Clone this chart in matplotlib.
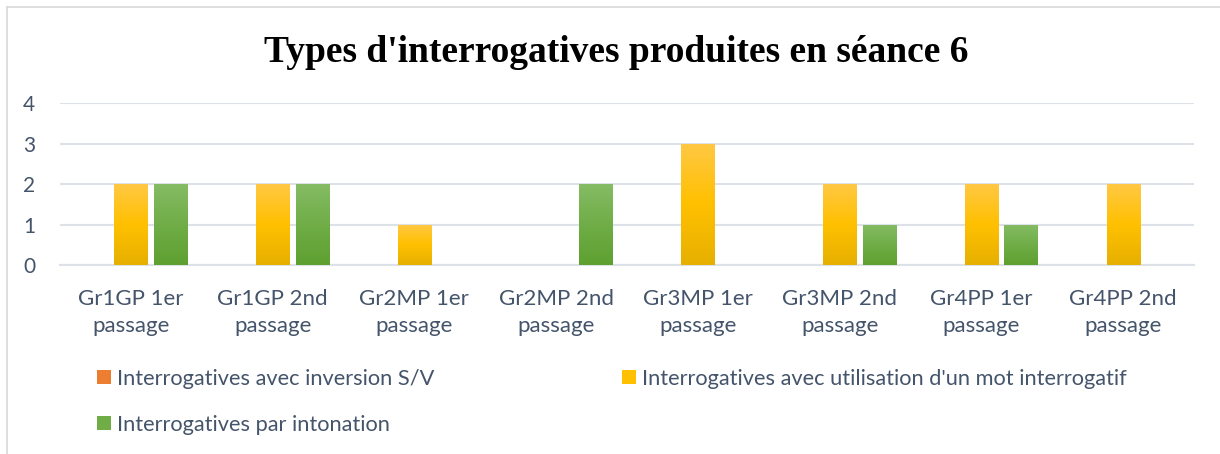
import numpy as np
import matplotlib.pyplot as plt
from matplotlib.patches import Patch
from matplotlib.colors import LinearSegmentedColormap
from matplotlib.lines import Line2D

categories = ["Gr1GP 1er\npassage", "Gr1GP 2nd\npassage", "Gr2MP 1er\npassage",
              "Gr2MP 2nd\npassage", "Gr3MP 1er\npassage", "Gr3MP 2nd\npassage",
              "Gr4PP 1er\npassage", "Gr4PP 2nd\npassage"]
series_names = ["Interrogatives avec inversion S/V",
                "Interrogatives avec utilisation d'un mot interrogatif",
                "Interrogatives par intonation"]
inversion = [0, 0, 0, 0, 0, 0, 0, 0]
mot_interrogatif = [2, 2, 1, 0, 3, 2, 2, 2]
intonation = [2, 2, 0, 2, 0, 1, 1, 0]
title = "Types d'interrogatives produites en séance 6"

# gradient colours (top, middle, bottom) like the Excel fills
grads = [["#F4A27A", "#ED7D31", "#D2691E"],
         ["#FFC844", "#FFC000", "#E6B000"],
         ["#85BC65", "#70AD47", "#5EA030"]]
solid = ["#ED7D31", "#FFC000", "#70AD47"]
txt_col = "#44546A"
grid_col = "#DDE1E8"

fig = plt.figure(figsize=(12.2, 4.54), dpi=100)
ax = fig.add_axes([0.0492, 0.4163, 0.9295, 0.3568])

x = np.arange(len(categories))
step = 0.279
width = 0.233
all_series = [inversion, mot_interrogatif, intonation]
for i, vals in enumerate(all_series):
    bars = ax.bar(x + (i - 1) * step, vals, width, color=solid[i], zorder=3)
    cmap = LinearSegmentedColormap.from_list("g%d" % i, grads[i])
    for b in bars:
        h = b.get_height()
        if h <= 0:
            continue
        b.set_facecolor("none")
        x0 = b.get_x()
        im = ax.imshow(np.linspace(0, 1, 256).reshape(-1, 1), cmap=cmap,
                       extent=[x0, x0 + b.get_width(), 0, h],
                       aspect="auto", origin="upper", zorder=3)
        im.set_clip_path(b)

ax.set_xlim(-0.5, len(categories) - 0.5)
ax.set_ylim(0, 4)
ax.set_yticks(range(0, 5))
ax.set_xticks(x)
ax.set_xticklabels(categories, linespacing=1.45)
ax.yaxis.grid(True, color=grid_col, lw=1.5, zorder=0)
ax.set_axisbelow(True)
for s in ["top", "right", "left"]:
    ax.spines[s].set_visible(False)
ax.spines["bottom"].set_color(grid_col)
ax.spines["bottom"].set_linewidth(1.5)
ax.tick_params(axis="both", length=0, labelcolor=txt_col, labelfontfamily="Lato")
ax.tick_params(axis="x", pad=17, labelsize=16)
ax.tick_params(axis="y", pad=18, labelsize=15)

fig.text(0.505, 0.885, title, ha="center", va="center",
         fontsize=27, fontweight="bold", family="Liberation Serif")

handles = [Patch(facecolor=c) for c in solid]
leg_kw = dict(frameon=False, handlelength=0.65, handleheight=0.65,
              handletextpad=0.25, labelspacing=1.2, borderaxespad=0, borderpad=0,
              labelcolor=txt_col, prop={"family": "Lato", "size": 15.7})
leg1 = fig.legend([handles[0], handles[2]], [series_names[0], series_names[2]],
                  loc="upper left", bbox_to_anchor=(0.0795, 0.188), **leg_kw)
leg2 = fig.legend([handles[1]], [series_names[1]],
                  loc="upper left", bbox_to_anchor=(0.5098, 0.188), **leg_kw)

# chart frame border lines
fig.add_artist(Line2D([0.0057, 0.0057], [0, 0.985], color="#D9D9D9", lw=1.2))
fig.add_artist(Line2D([0.0057, 1.0], [0.985, 0.985], color="#D9D9D9", lw=1.2))

fig.savefig("out.png", dpi=100)
